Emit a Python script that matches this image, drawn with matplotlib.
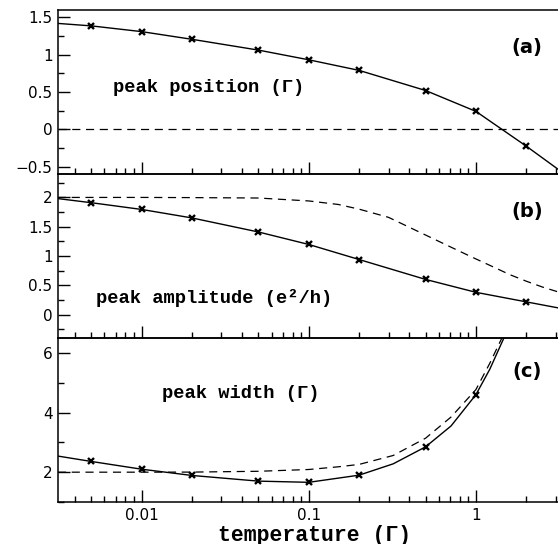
import matplotlib
matplotlib.use("Agg")
import matplotlib.pyplot as plt
from matplotlib.ticker import FixedLocator, LogLocator, NullFormatter, FixedFormatter, MultipleLocator

# ---- data ----
T_markers = [0.005, 0.01, 0.02, 0.05, 0.1, 0.2, 0.5, 1, 2]

# (a) peak position
pos_T = [0.00316, 0.005, 0.01, 0.02, 0.05, 0.1, 0.2, 0.5, 1, 2, 3.16]
pos_val = [1.42, 1.387, 1.31, 1.207, 1.062, 0.932, 0.79, 0.52, 0.24, -0.226, -0.55]
pos_ref_T = [0.00316, 3.16]
pos_ref = [0.0, 0.0]

# (b) peak amplitude
amp_T = [0.00316, 0.005, 0.01, 0.02, 0.05, 0.1, 0.2, 0.5, 1, 2, 3.16]
amp_val = [1.98, 1.91, 1.795, 1.65, 1.41, 1.197, 0.94, 0.60, 0.38, 0.217, 0.11]
amp_ref_T = [0.00316, 0.01, 0.02, 0.05, 0.1, 0.15, 0.2, 0.3, 0.4, 0.6, 0.8, 1.0, 1.3, 1.6, 2.0, 2.5, 3.16]
amp_ref = [2.0, 2.0, 1.997, 1.99, 1.94, 1.88, 1.80, 1.66, 1.49, 1.25, 1.08, 0.95, 0.80, 0.68, 0.57, 0.47, 0.38]

# (c) peak width
wid_T = [0.00316, 0.005, 0.01, 0.02, 0.05, 0.1, 0.2, 0.32, 0.5, 0.71, 1, 1.21, 1.47]
wid_val = [2.54, 2.36, 2.10, 1.89, 1.70, 1.66, 1.90, 2.28, 2.85, 3.55, 4.60, 5.45, 6.5]
wid_ref_T = [0.00316, 0.01, 0.02, 0.05, 0.1, 0.15, 0.2, 0.32, 0.5, 0.71, 1, 1.21, 1.43]
wid_ref = [2.0, 2.0, 2.003, 2.03, 2.09, 2.18, 2.26, 2.56, 3.14, 3.85, 4.77, 5.65, 6.5]

xticks = [0.01, 0.1, 1]
xtick_labels = ["0.01", "0.1", "1"]
a_ticks = [-0.5, 0, 0.5, 1, 1.5]
a_labels = ["\u22120.5", "0", "0.5", "1", "1.5"]
b_ticks = [0, 0.5, 1, 1.5, 2]
b_labels = ["0", "0.5", "1", "1.5", "2"]
c_ticks = [2, 4, 6]
c_labels = ["2", "4", "6"]

W, H = 558, 544
fig = plt.figure(figsize=(W / 100, H / 100), dpi=100)

left = 58 / W
width = 501.5 / W
def ax_at(top_px, bot_px):
    return fig.add_axes([left, (H - bot_px) / H, width, (bot_px - top_px) / H])

axa = ax_at(10, 174)
axb = ax_at(174, 338)
axc = ax_at(338, 502)

def marker_vals(T, v):
    return [v[T.index(t)] for t in T_markers if t in T]

lw = 1.0
mk = dict(marker='x', markersize=4.5, mew=1.7, color='black', linestyle='none')

def style(ax, ylim, yticks, ylabels, minor_step, show_x=False):
    ax.set_xscale('log')
    ax.set_xlim(10 ** -2.5, 10 ** 0.5)
    ax.set_ylim(*ylim)
    ax.xaxis.set_major_locator(FixedLocator(xticks))
    ax.xaxis.set_minor_locator(LogLocator(base=10, subs=range(2, 10), numticks=20))
    ax.xaxis.set_minor_formatter(NullFormatter())
    if show_x:
        ax.xaxis.set_major_formatter(FixedFormatter(xtick_labels))
    else:
        ax.xaxis.set_major_formatter(NullFormatter())
    ax.yaxis.set_major_locator(FixedLocator(yticks))
    ax.yaxis.set_major_formatter(FixedFormatter(ylabels))
    ax.yaxis.set_minor_locator(MultipleLocator(minor_step))
    ax.tick_params(which='both', direction='in', top=False, right=False,
                   width=1.0, color='black')
    ax.tick_params(which='major', length=8.5, labelsize=11, pad=4)
    ax.tick_params(which='minor', length=4)
    for s in ['left', 'bottom', 'top']:
        ax.spines[s].set_linewidth(1.1)
    ax.spines['right'].set_visible(False)
    ax.patch.set_alpha(0)

dash = (6.5, 4.5)

# (a)
axa.plot(pos_T, pos_val, color='black', lw=lw)
axa.plot(T_markers, marker_vals(pos_T, pos_val), **mk)
axa.plot(pos_ref_T, pos_ref, color='black', lw=0.9, dashes=dash)
style(axa, (-0.6, 1.6), a_ticks, a_labels, 0.25)

# (b)
axb.plot(amp_T, amp_val, color='black', lw=lw)
axb.plot(T_markers, marker_vals(amp_T, amp_val), **mk)
axb.plot(amp_ref_T, amp_ref, color='black', lw=0.9, dashes=dash)
style(axb, (-0.4, 2.4), b_ticks, b_labels, 0.25)

# (c)
axc.plot(wid_T, wid_val, color='black', lw=lw)
cm_T = [t for t in T_markers if t in wid_T]
axc.plot(cm_T, [wid_val[wid_T.index(t)] for t in cm_T], **mk)
axc.plot(wid_ref_T, wid_ref, color='black', lw=0.9, dashes=dash)
style(axc, (1.0, 6.5), c_ticks, c_labels, 1.0, show_x=True)

lab = dict(family='Liberation Mono', fontweight='bold', fontsize=13.5, color='black')
def ftext(xpx, ypx, s, ha='left', **kw):
    fig.text(xpx / W, 1 - ypx / H, s, ha=ha, va='center', **kw)

ftext(113, 88, "peak position (\u0393)", **lab)
ftext(96, 298, "peak amplitude (e\u00b2/h)", **lab)
ftext(162, 394, "peak width (\u0393)", **lab)
ftext(315, 535, "temperature (\u0393)", ha='center',
      family='Liberation Mono', fontweight='bold', fontsize=15.5, color='black')

pl = dict(family='DejaVu Sans', fontweight='bold', fontsize=14, color='black')
ftext(527, 47, "(a)", ha='center', **pl)
ftext(527, 212, "(b)", ha='center', **pl)
ftext(527, 372, "(c)", ha='center', **pl)

fig.savefig("out.png", dpi=100)
